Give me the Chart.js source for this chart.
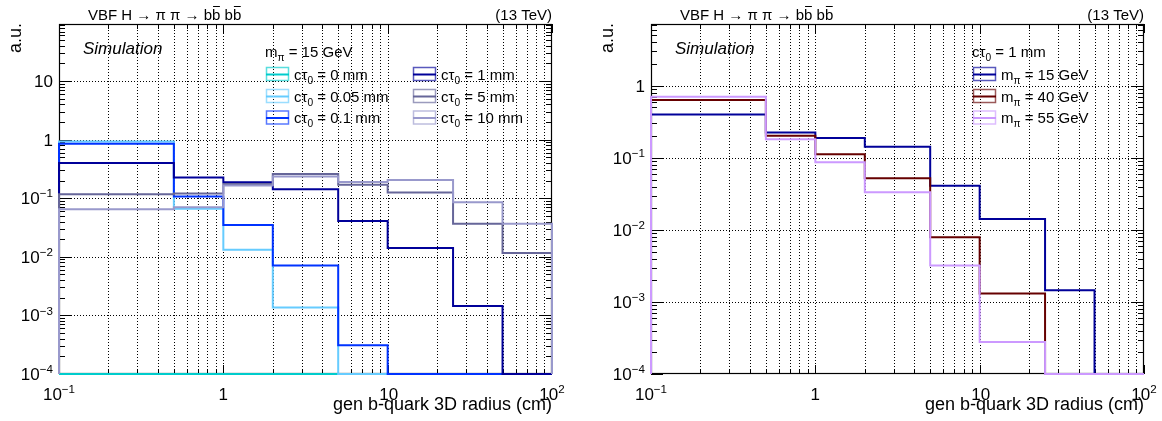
<!DOCTYPE html>
<html>
<head>
<meta charset="utf-8">
<title>gen b-quark 3D radius</title>
<script src="https://cdn.jsdelivr.net/npm/chart.js@4.4.1/dist/chart.umd.min.js"></script>
<style>
  html, body { margin: 0; padding: 0; background: #fff; }
  .panel { position: absolute; top: 0; width: 581px; height: 421px; }
  canvas { display: block; }
</style>
</head>
<body>
<div class="panel" style="left:0"><canvas id="lifetimes" width="581" height="421"></canvas></div>
<div class="panel" style="left:581px"><canvas id="masses" width="581" height="421"></canvas></div>
<script>
// Bin edges of the radius histogram (cm)
const binEdges = [0.1, 0.5, 1, 2, 5, 10, 25, 50, 100];

// Left panel: m_pi = 15 GeV, different proper lifetimes
// (prompt decays sit at radius 0, below the first bin, so that histogram is empty)
const lifetimeLabels = ['0 mm', '0.05 mm', '0.1 mm', '1 mm', '5 mm', '10 mm'];
const ct0mm   = [0,     0,     0,      0,       0,       0,      0,       0];
const ct005mm = [0.93,  0.066, 0.0132, 0.00136, 0,       0,      0,       0];
const ct01mm  = [0.85,  0.107, 0.035,  0.0071,  0.00031, 0,      0,       0];
const ct1mm   = [0.40,  0.225, 0.188,  0.142,   0.041,   0.0142, 0.00145, 0];
const ct5mm   = [0.117, 0.12,  0.175,  0.26,    0.17,    0.125,  0.0365,  0.0116];
const ct10mm  = [0.065, 0.07,  0.165,  0.234,   0.19,    0.205,  0.0855,  0.0365];

// Right panel: c tau_0 = 1 mm, different pion masses
const massLabels = ['15 GeV', '40 GeV', '55 GeV'];
const m15 = [0.40,  0.225, 0.188,  0.142,  0.041,  0.0142,   0.00145, 0];
const m40 = [0.634, 0.203, 0.112,  0.052,  0.0079, 0.00131,  0,       0];
const m55 = [0.705, 0.181, 0.0867, 0.0333, 0.0032, 0.000278, 0,       0];

// Axis tick labels (decade exponents)
const xTickExponents = [-1, 0, 1, 2];
const yTickExponentsLeft = [-4, -3, -2, -1, 0, 1];
const yTickExponentsRight = [-4, -3, -2, -1, 0];

const FONT = "'Liberation Sans', Arial, Helvetica, sans-serif";
const Y_FLOOR = 1e-4;

// Outline of a ROOT-style histogram: rises from the floor at the first edge,
// steps across each bin, and falls back to the floor at the last edge.
function histPoints(values) {
  const pts = [{ x: binEdges[0], y: Y_FLOOR }];
  values.forEach((v, i) => {
    const y = v > 0 ? v : Y_FLOOR;
    pts.push({ x: binEdges[i], y });
    pts.push({ x: binEdges[i + 1], y });
  });
  pts.push({ x: binEdges[binEdges.length - 1], y: Y_FLOOR });
  return pts;
}

// Rich text: parts are [text, kind] with kind '', 'sub', 'sup' or 'bar'
function partFont(size, kind, italic) {
  const s = (kind === 'sub' || kind === 'sup') ? size * 0.68 : size;
  return (italic ? 'italic ' : '') + s.toFixed(1) + 'px ' + FONT;
}
function richWidth(ctx, parts, size) {
  let w = 0;
  for (const [t, k] of parts) { ctx.font = partFont(size, k); w += ctx.measureText(t).width; }
  return w;
}
function drawRich(ctx, parts, x, y, size, align) {
  const w = richWidth(ctx, parts, size);
  let cx = align === 'right' ? x - w : align === 'center' ? x - w / 2 : x;
  ctx.textAlign = 'left';
  ctx.textBaseline = 'alphabetic';
  for (const [t, k] of parts) {
    ctx.font = partFont(size, k);
    const tw = ctx.measureText(t).width;
    let dy = 0;
    if (k === 'sup') dy = -size * 0.40;
    if (k === 'sub') dy = size * 0.27;
    ctx.fillText(t, cx, y + dy);
    if (k === 'bar') {
      ctx.save();
      ctx.lineWidth = 1;
      ctx.strokeStyle = ctx.fillStyle;
      ctx.beginPath();
      const by = Math.round(y - size * 0.93) + 0.5;
      ctx.moveTo(cx + 1, by);
      ctx.lineTo(cx + tw - 0.5, by);
      ctx.stroke();
      ctx.restore();
    }
    cx += tw;
  }
}
function powerLabel(e) {
  if (e === 0) return [['1', '']];
  if (e === 1) return [['10', '']];
  return [['10', ''], [(e < 0 ? '\u2212' : '') + Math.abs(e), 'sup']];
}
function decadeValues(lo, hi, min, max) {
  const out = [];
  for (let d = lo; d <= hi; d++) {
    for (let k = 1; k <= 9; k++) {
      const v = k * Math.pow(10, d);
      if (v >= min * 0.9999 && v <= max * 1.0001) out.push({ v, major: k === 1 });
    }
  }
  return out;
}

// Frame, grid and ticks drawn beneath the histograms
const framePlugin = {
  id: 'rootFrame',
  beforeDatasetsDraw(chart) {
    const { ctx, chartArea: a, scales: { x, y } } = chart;
    const xMin = x.min, xMax = x.max, yMin = y.min, yMax = y.max;
    ctx.save();
    ctx.strokeStyle = '#000';
    ctx.lineWidth = 1;

    // dotted grid: every x tick, y at decades only
    ctx.setLineDash([1, 2]);
    ctx.beginPath();
    for (const t of decadeValues(-1, 1, xMin, xMax)) {
      if (t.v <= xMin * 1.001 || t.v >= xMax * 0.999) continue;
      const px = Math.round(x.getPixelForValue(t.v)) + 0.5;
      ctx.moveTo(px, a.top); ctx.lineTo(px, a.bottom);
    }
    for (let d = -3; d <= 2; d++) {
      const v = Math.pow(10, d);
      if (v <= yMin || v >= yMax) continue;
      const py = Math.round(y.getPixelForValue(v)) + 0.5;
      ctx.moveTo(a.left, py); ctx.lineTo(a.right, py);
    }
    ctx.stroke();
    ctx.setLineDash([]);

    // ticks on all four sides, pointing inward
    ctx.beginPath();
    for (const t of decadeValues(-1, 2, xMin, xMax)) {
      const px = Math.round(x.getPixelForValue(t.v)) + 0.5;
      const len = t.major ? 9 : 5;
      ctx.moveTo(px, a.bottom); ctx.lineTo(px, a.bottom - len);
      ctx.moveTo(px, a.top); ctx.lineTo(px, a.top + len);
    }
    for (const t of decadeValues(-4, 2, yMin, yMax)) {
      const py = Math.round(y.getPixelForValue(t.v)) + 0.5;
      const len = t.major ? 12 : 6;
      ctx.moveTo(a.left, py); ctx.lineTo(a.left + len, py);
      ctx.moveTo(a.right, py); ctx.lineTo(a.right - len, py);
    }
    ctx.stroke();

    // frame
    ctx.lineWidth = 1.2;
    ctx.strokeRect(a.left + 0.5, a.top + 0.5, a.right - a.left - 1, a.bottom - a.top - 1);
    ctx.restore();
  }
};

// Axis labels, titles and legend
const textPlugin = {
  id: 'rootText',
  afterDraw(chart, args, opts) {
    const { ctx, chartArea: a, scales: { x, y } } = chart;
    ctx.save();
    ctx.fillStyle = '#000';

    // tick labels
    for (const e of xTickExponents) {
      drawRich(ctx, powerLabel(e), x.getPixelForValue(Math.pow(10, e)) + (e === 1 ? 1 : 0), 400, 17, 'center');
    }
    for (const e of opts.yExponents) {
      drawRich(ctx, powerLabel(e), a.left - 6, y.getPixelForValue(Math.pow(10, e)) + 6, 17, 'right');
    }

    // axis titles
    ctx.font = '18px ' + FONT;
    ctx.textAlign = 'right';
    ctx.textBaseline = 'alphabetic';
    ctx.fillText('gen b-quark 3D radius (cm)', a.right, 410);
    ctx.save();
    ctx.translate(a.left - 38.5, a.top - 1);
    ctx.rotate(-Math.PI / 2);
    ctx.fillText('a.u.', 0, 0);
    ctx.restore();

    // process and energy labels
    drawRich(ctx, [['VBF H ', ''], ['\u2192', ''], [' \u03c0 \u03c0 ', ''], ['\u2192', ''],
                   [' b', ''], ['b', 'bar'], [' b', ''], ['b', 'bar']], a.left + 29, 20, 15, 'left');
    ctx.font = '15px ' + FONT;
    ctx.textAlign = 'right';
    ctx.fillText('(13 TeV)', a.right, 20);

    ctx.font = 'italic 17px ' + FONT;
    ctx.textAlign = 'left';
    ctx.fillText('Simulation', a.left + 24, 54);

    // legend
    const lg = opts.legend;
    drawRich(ctx, lg.title, lg.titleX, lg.titleY, 15, 'left');
    for (const en of lg.entries) {
      const bx = en.x, by = en.y;
      ctx.save();
      ctx.strokeStyle = en.color;
      ctx.globalAlpha = 0.65;
      ctx.lineWidth = 1.5;
      ctx.strokeRect(bx + 0.5, by - 6.5, 22, 13);
      ctx.globalAlpha = 1;
      ctx.lineWidth = 2;
      ctx.beginPath();
      ctx.moveTo(bx, by + 0.5); ctx.lineTo(bx + 23, by + 0.5);
      ctx.stroke();
      ctx.restore();
      ctx.fillStyle = '#000';
      drawRich(ctx, en.label, bx + 28, by + 5.5, 15, 'left');
    }
    ctx.restore();
  }
};

function makePanel(canvasId, padding, yMax, series, yExponents, legend) {
  const n = series.length;
  const datasets = series.map((s, i) => ({
    label: s.name,
    data: histPoints(s.values),
    borderColor: s.color,
    backgroundColor: s.color,
    borderWidth: 2,
    pointRadius: 0,
    pointHoverRadius: 0,
    tension: 0,
    fill: false,
    clip: false,
    borderJoinStyle: 'miter',
    order: n - 1 - i
  }));
  return new Chart(document.getElementById(canvasId), {
    type: 'line',
    data: { datasets },
    options: {
      responsive: false,
      animation: false,
      devicePixelRatio: 1,
      layout: { padding },
      parsing: false,
      scales: {
        x: { type: 'logarithmic', min: 0.1, max: 100, display: false },
        y: { type: 'logarithmic', min: Y_FLOOR, max: yMax, display: false }
      },
      plugins: {
        legend: { display: false },
        tooltip: { enabled: false },
        rootText: { yExponents, legend }
      }
    },
    plugins: [framePlugin, textPlugin]
  });
}

const ctLabel = (s) => [['c', ''], ['\u03c4', ''], ['0', 'sub'], [' = ' + s, '']];
const mLabel = (s) => [['m', ''], ['\u03c0', 'sub'], [' = ' + s, '']];

const lifetimeColors = ['#00cccc', '#66ccff', '#0033ff', '#000099', '#666699', '#9999cc'];
const lifetimeValues = [ct0mm, ct005mm, ct01mm, ct1mm, ct5mm, ct10mm];
const lifetimeSeries = lifetimeLabels.map((l, i) => ({ name: l, values: lifetimeValues[i], color: lifetimeColors[i] }));
const lifetimeRows = [74, 96, 117.5];
makePanel('lifetimes', { left: 59, right: 29, top: 24, bottom: 47 }, 94, lifetimeSeries, yTickExponentsLeft, {
  title: mLabel('15 GeV'), titleX: 265, titleY: 56.5,
  entries: lifetimeSeries.map((s, i) => ({
    x: i < 3 ? 266 : 413, y: lifetimeRows[i % 3], color: s.color, label: ctLabel(s.name)
  }))
});

const massColors = ['#000099', '#660000', '#cc99ff'];
const massValues = [m15, m40, m55];
const massSeries = massLabels.map((l, i) => ({ name: l, values: massValues[i], color: massColors[i] }));
makePanel('masses', { left: 70, right: 18, top: 24, bottom: 47 }, 7.2, massSeries, yTickExponentsRight, {
  title: ctLabel('1 mm'), titleX: 391, titleY: 56.5,
  entries: massSeries.map((s, i) => ({
    x: 392, y: lifetimeRows[i], color: s.color, label: mLabel(s.name)
  }))
});
</script>
</body>
</html>
